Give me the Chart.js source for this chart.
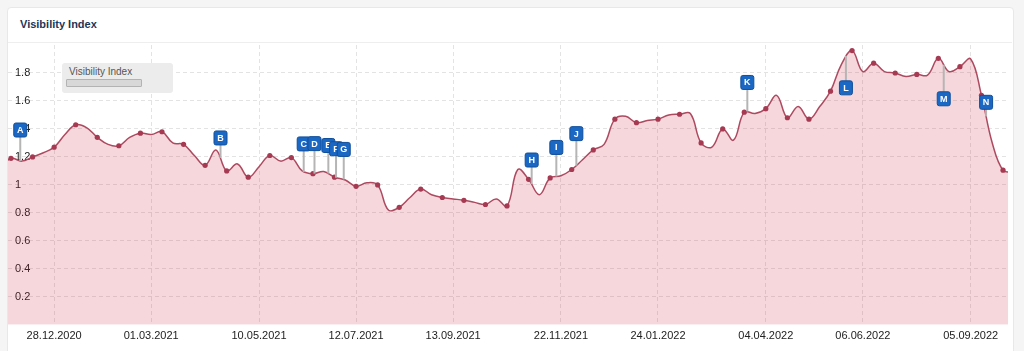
<!DOCTYPE html>
<html>
<head>
<meta charset="utf-8">
<script src="https://cdn.jsdelivr.net/npm/chart.js@4.4.0/dist/chart.umd.min.js"></script>
<style>
  html, body { margin: 0; padding: 0; width: 1024px; height: 351px; overflow: hidden; background: #f5f5f5; font-family: 'Liberation Sans', Arial, sans-serif; }
  #card { position: absolute; left: 7px; top: 7px; width: 1005px; height: 360px; background: #fff; border: 1px solid #e8e8e8; border-radius: 4px; }
  #title { position: absolute; left: 20px; top: 18px; font-size: 11px; font-weight: bold; color: #1d3557; }
  #sep { position: absolute; left: 8px; top: 42px; width: 1004px; height: 1px; background: #eeeeee; }
  #wrap { position: absolute; left: 0; top: 0; width: 1024px; height: 351px; }
  #legend { position: absolute; left: 62px; top: 63px; width: 111px; height: 30px; background: #ececec; border-radius: 3px; }
  #legend span { position: absolute; left: 7px; top: 3px; font-size: 10px; color: #555; }
  #legend i { position: absolute; left: 4px; top: 16px; width: 74px; height: 6px; background: #d8d8d8; border: 1px solid #b3b3b3; border-radius: 1px; }
</style>
</head>
<body>
<div id="card"></div>
<div id="title">Visibility Index</div>
<div id="sep"></div>
<div id="wrap"><canvas id="visibility-chart" width="1024" height="351"></canvas></div>
<div id="legend"><span>Visibility Index</span><i></i></div>
<script>
const categories = [
  '23.11.2020', '30.11.2020', '07.12.2020', '14.12.2020', '21.12.2020', '28.12.2020',
  '04.01.2021', '11.01.2021', '18.01.2021', '25.01.2021', '01.02.2021', '08.02.2021', '15.02.2021', '22.02.2021',
  '01.03.2021', '08.03.2021', '15.03.2021', '22.03.2021', '29.03.2021', '05.04.2021', '12.04.2021', '19.04.2021',
  '26.04.2021', '03.05.2021', '10.05.2021', '17.05.2021', '24.05.2021', '31.05.2021', '07.06.2021', '14.06.2021',
  '21.06.2021', '28.06.2021', '05.07.2021', '12.07.2021', '19.07.2021', '26.07.2021', '02.08.2021', '09.08.2021',
  '16.08.2021', '23.08.2021', '30.08.2021', '06.09.2021', '13.09.2021', '20.09.2021', '27.09.2021', '04.10.2021',
  '11.10.2021', '18.10.2021', '25.10.2021', '01.11.2021', '08.11.2021', '15.11.2021', '22.11.2021', '29.11.2021',
  '06.12.2021', '13.12.2021', '20.12.2021', '27.12.2021', '03.01.2022', '10.01.2022', '17.01.2022', '24.01.2022',
  '31.01.2022', '07.02.2022', '14.02.2022', '21.02.2022', '28.02.2022', '07.03.2022', '14.03.2022', '21.03.2022',
  '28.03.2022', '04.04.2022', '11.04.2022', '18.04.2022', '25.04.2022', '02.05.2022', '09.05.2022', '16.05.2022',
  '23.05.2022', '30.05.2022', '06.06.2022', '13.06.2022', '20.06.2022', '27.06.2022', '04.07.2022', '11.07.2022',
  '18.07.2022', '01.08.2022', '15.08.2022', '29.08.2022', '05.09.2022', '12.09.2022', '19.09.2022', '26.09.2022',
  '03.10.2022'
];

const visibility = [
  1.12, 1.19, 1.17, 1.20, 1.23, 1.27,
  1.36, 1.43, 1.41, 1.34, 1.29, 1.28, 1.34, 1.37,
  1.36, 1.38, 1.30, 1.29, 1.21, 1.14, 1.25, 1.10,
  1.15, 1.055, 1.13, 1.21, 1.17, 1.195, 1.10, 1.08,
  1.095, 1.055, 1.035, 0.99, 1.015, 1.00, 0.82, 0.84,
  0.91, 0.97, 0.93, 0.91, 0.90, 0.89, 0.875, 0.86,
  0.90, 0.85, 1.11, 1.04, 0.93, 1.05, 1.065, 1.11,
  1.18, 1.25, 1.29, 1.47, 1.49, 1.445, 1.46, 1.47,
  1.50, 1.505, 1.51, 1.30, 1.27, 1.40, 1.32, 1.52,
  1.51, 1.545, 1.64, 1.48, 1.56, 1.47, 1.56, 1.67,
  1.86, 1.96, 1.81, 1.87, 1.81, 1.80, 1.775, 1.79,
  1.785, 1.905, 1.81, 1.845, 1.90, 1.64, 1.30, 1.105,
  1.09
];

const tickDates = ['28.12.2020', '01.03.2021', '10.05.2021', '12.07.2021', '13.09.2021',
  '22.11.2021', '24.01.2022', '04.04.2022', '06.06.2022', '05.09.2022'];

const eventLetters = ['A', 'B', 'C', 'D', 'E', 'F', 'G', 'H', 'I', 'J', 'K', 'L', 'M', 'N'];
const eventDates = ['06.12.2020', '15.04.2021', '08.06.2021', '15.06.2021', '24.06.2021', '29.06.2021',
  '04.07.2021', '03.11.2021', '19.11.2021', '02.12.2021', '23.03.2022', '26.05.2022', '08.08.2022', '15.09.2022'];

function toDay(s) {
  const [d, m, y] = s.split('.').map(Number);
  return Date.UTC(y, m - 1, d) / 86400000;
}

function dateToIndex(s) {
  const t = toDay(s);
  for (let i = 0; i < categories.length - 1; i++) {
    const a = toDay(categories[i]), b = toDay(categories[i + 1]);
    if (t >= a && t <= b) return i + (t - a) / (b - a);
  }
  return 0;
}

function cubic(a, b, c, d, t) {
  const u = 1 - t;
  return u * u * u * a + 3 * u * u * t * b + 3 * u * t * t * c + t * t * t * d;
}

// y pixel of the drawn spline at pixel x
function curveY(pts, px) {
  for (let j = 0; j < pts.length - 1; j++) {
    const p0 = pts[j], p1 = pts[j + 1];
    if (px >= p0.x && px <= p1.x) {
      let lo = 0, hi = 1, t = 0.5;
      for (let k = 0; k < 30; k++) {
        t = (lo + hi) / 2;
        if (cubic(p0.x, p0.cp2x, p1.cp1x, p1.x, t) < px) lo = t; else hi = t;
      }
      return cubic(p0.y, p0.cp2y, p1.cp1y, p1.y, t);
    }
  }
  return pts[0].y;
}

const flagPlugin = {
  id: 'flags',
  afterDatasetsDraw(chart, args, opts) {
    const ctx = chart.ctx;
    const xs = chart.scales.x;
    const pts = chart.getDatasetMeta(0).data;
    eventLetters.forEach((letter, k) => {
      const px = xs.getPixelForValue(dateToIndex(eventDates[k]));
      const py = curveY(pts, px);
      const fy = py + opts.offsets[k];
      ctx.save();
      ctx.strokeStyle = '#b5b5b5';
      ctx.lineWidth = 2;
      ctx.beginPath();
      ctx.moveTo(px, py);
      ctx.lineTo(px, fy);
      ctx.stroke();
      ctx.fillStyle = '#1b67c4';
      ctx.strokeStyle = '#124f9a';
      ctx.lineWidth = 1;
      ctx.beginPath();
      ctx.roundRect(px - 6.5, fy - 7, 13, 14, 2);
      ctx.fill();
      ctx.stroke();
      ctx.fillStyle = '#fff';
      ctx.font = 'bold 9px "Liberation Sans", Arial, sans-serif';
      ctx.textAlign = 'center';
      ctx.textBaseline = 'middle';
      ctx.fillText(letter, px, fy + 0.5);
      ctx.restore();
    });
  }
};

const gridColor = '#e3e3e3';

new Chart(document.querySelector('#visibility-chart').getContext('2d'), {
  type: 'line',
  data: {
    datasets: [{
      label: 'Visibility Index',
      data: visibility.map((v, i) => ({ x: i, y: v })),
      borderColor: '#ad4a60',
      borderWidth: 1.5,
      backgroundColor: 'rgba(200, 40, 70, 0.19)',
      fill: 'origin',
      tension: 0.4,
      pointRadius: ctx => (ctx.dataIndex % 2 === 1 ? 2.6 : 0),
      pointBackgroundColor: '#a63a52',
      pointBorderWidth: 0
    }]
  },
  options: {
    responsive: false,
    animation: false,
    layout: { padding: { left: 8, right: 16, top: 45, bottom: 3 } },
    plugins: {
      legend: { display: false },
      tooltip: { enabled: false },
      flags: { offsets: [-31, -20, -28, -30, -28, -29, -30, -24, -29, -32, -29, 32, 34, -14] }
    },
    scales: {
      x: {
        type: 'linear',
        min: 0.72,
        max: 93.46,
        afterBuildTicks: axis => {
          axis.ticks = tickDates.map(d => ({ value: categories.indexOf(d) }));
        },
        ticks: {
          autoSkip: false,
          maxRotation: 0,
          padding: 5,
          color: '#222',
          font: { size: 11, family: "'Liberation Sans', Arial, sans-serif" },
          callback: v => categories[v]
        },
        grid: { color: gridColor, drawTicks: false },
        border: { display: false, dash: [4, 3] }
      },
      y: {
        min: 0,
        max: 2,
        afterFit: scale => { scale.width = 0; },
        ticks: {
          stepSize: 0.2,
          mirror: true,
          padding: 7,
          color: '#222',
          font: { size: 11, family: "'Liberation Sans', Arial, sans-serif" },
          callback: v => (v <= 0.001 || v >= 1.999) ? '' : String(Number(v.toFixed(1)))
        },
        grid: {
          drawTicks: false,
          color: ctx => (ctx.tick && (ctx.tick.value <= 0.001 || ctx.tick.value >= 1.999)) ? 'rgba(0,0,0,0)' : gridColor
        },
        border: { display: false, dash: [4, 3] }
      }
    }
  },
  plugins: [flagPlugin]
});
</script>
</body>
</html>
